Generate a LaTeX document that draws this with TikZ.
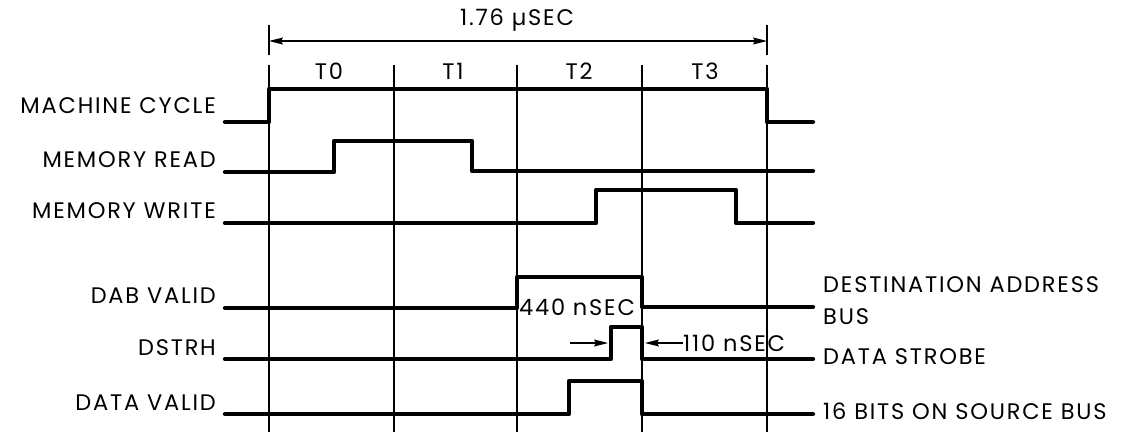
\documentclass[tikz,border=0pt]{standalone}
\usepackage{fontspec}
\setmainfont{Poppins}[LetterSpace=8]
\usetikzlibrary{arrows.meta}
\begin{document}
\begin{tikzpicture}[x=1pt, y=-1pt, >={Stealth[length=14pt,width=7pt,inset=2pt]},
    sig/.style={line width=4.3pt, line cap=round, line join=round},
    grid/.style={line width=1.6pt},
    dim/.style={line width=1.2pt},
    lbl/.style={font=\fontsize{22.5}{26}\selectfont, inner sep=0pt}]
  \useasboundingbox (0,0) rectangle (1133,434);
  \foreach \x in {269,394,517,642,767}
    \draw[grid] (\x,65) -- (\x,432);
  \draw[dim] (269,25) -- (269,55);
  \draw[dim] (767,25) -- (767,55);
  \draw[dim, <->] (269,41) -- (767,41);
  \node[lbl] (period) at (517,20) {1.76 µSEC};
  \foreach \t/\x in {0/329,1/453,2/579,3/705}
    \node[lbl] (t\t) at (\x,71) {T\t};
  \node[lbl, anchor=east] (mc) at (216,106) {MACHINE CYCLE};
  \node[lbl, anchor=east] (mr) at (216,160) {MEMORY READ};
  \node[lbl, anchor=east] (mw) at (216,211) {MEMORY WRITE};
  \node[lbl, anchor=east] (dab) at (216,296) {DAB VALID};
  \node[lbl, anchor=east] (dstrh) at (216,348) {DSTRH};
  \node[lbl, anchor=east] (dv) at (216,403) {DATA VALID};
  \draw[sig] (225,122) -- (269,122) -- (269,89) -- (767,89) -- (767,122) -- (813,122);
  \draw[sig] (225,172) -- (334,172) -- (334,141) -- (472,141) -- (472,171) -- (813,171);
  \draw[sig] (225,223) -- (596,223) -- (596,190) -- (736,190) -- (736,223) -- (813,223);
  \draw[sig] (225,308) -- (517,308) -- (517,277) -- (642,277) -- (642,307) -- (813,307);
  \draw[sig] (225,359) -- (611,359) -- (611,327) -- (642,327) -- (642,359) -- (813,359);
  \draw[sig] (225,414) -- (569,414) -- (569,381) -- (642,381) -- (642,414) -- (813,414);
  \node[lbl] (dabw) at (577,307) {440 nSEC};
  \node[lbl, anchor=west] (strw) at (683,343) {110 nSEC};
  \coordinate (sl) at (608,343);
  \coordinate (sr) at (645,343);
  \draw[dim, ->] (570,343) -- (sl);
  \draw[dim, ->] (strw.west) -- (sr);
  \node[lbl, anchor=west] (dabr) at (823,285) {DESTINATION ADDRESS};
  \node[lbl, anchor=west] (busr) at (823,317) {BUS};
  \node[lbl, anchor=west] (dsr) at (823,357) {DATA STROBE};
  \node[lbl, anchor=west] (dvr) at (823,411) {16 BITS ON SOURCE BUS};
\end{tikzpicture}
\end{document}
